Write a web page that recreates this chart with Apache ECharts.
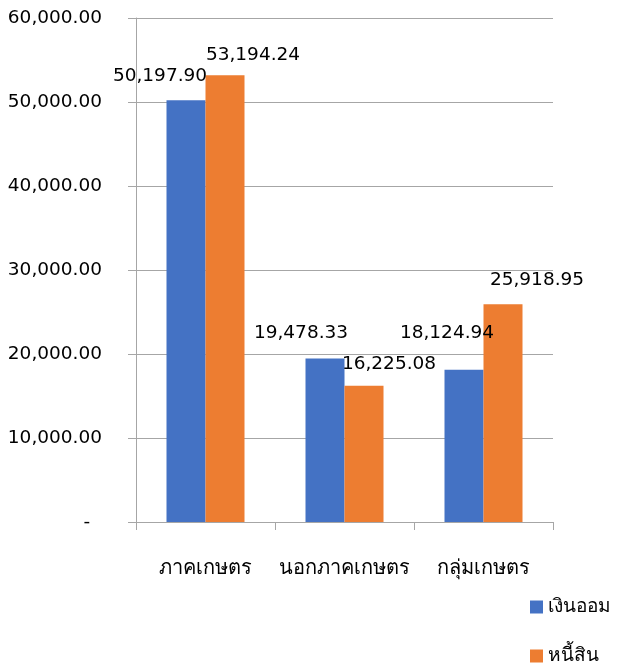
<!DOCTYPE html>
<html>
<head>
<meta charset="utf-8">
<script src="https://cdn.jsdelivr.net/npm/echarts@6/dist/echarts.min.js"></script>
<style>
  html, body { margin: 0; padding: 0; background: #fff; }
  #chart { width: 623px; height: 670px; }
</style>
</head>
<body>
<div id="chart"></div>
<script>
  // ข้อมูล
  const categories = ['ภาคเกษตร', 'นอกภาคเกษตร', 'กลุ่มเกษตร']
  const savings = [50197.90, 19478.33, 18124.94] // เงินออม
  const debts = [53194.24, 16225.08, 25918.95] // หนี้สิน
  const seriesNames = ['เงินออม', 'หนี้สิน']

  // label shifts, copied from the excel layout
  const savingShift = [[-26, -10], [-24, -11], [-17, -22]]
  const debtShift = [[28, -5], [25, -7], [34, -10]]

  const font = '"DejaVu Sans", Tahoma, sans-serif'
  const fmt = v => v.toLocaleString('en-US', { minimumFractionDigits: 2, maximumFractionDigits: 2 })

  function withLabels(values, shifts) {
    return values.map((v, i) => ({
      value: v,
      label: { offset: shifts[i] }
    }))
  }

  const chart = echarts.init(document.getElementById('chart'))
  chart.setOption({
    animation: false,
    textStyle: { fontFamily: font },
    grid: { left: 136, right: 70, top: 18, bottom: 148 },
    legend: {
      orient: 'vertical',
      left: 530,
      top: 597,
      padding: 0,
      itemWidth: 13,
      itemHeight: 13,
      itemGap: 29,
      icon: 'rect',
      textStyle: { fontSize: 19, lineHeight: 20, color: '#000', fontFamily: font },
      data: seriesNames
    },
    xAxis: {
      type: 'category',
      data: categories,
      axisLine: { lineStyle: { color: '#a6a6a6', width: 1 } },
      axisTick: { show: true, length: 8, lineStyle: { color: '#a6a6a6' } },
      axisLabel: { interval: 0, fontSize: 20, color: '#000', margin: 37, fontFamily: font }
    },
    yAxis: {
      type: 'value',
      min: 0,
      max: 60000,
      interval: 10000,
      axisLine: { show: true, lineStyle: { color: '#a6a6a6' } },
      axisTick: { show: true, length: 8, lineStyle: { color: '#a6a6a6' } },
      splitLine: { lineStyle: { color: '#a6a6a6' } },
      axisLabel: {
        fontSize: 18.5,
        color: '#000',
        margin: 34,
        fontFamily: font,
        formatter: v => v === 0 ? '-\u00a0\u00a0' : fmt(v)
      }
    },
    series: [
      {
        name: seriesNames[0],
        type: 'bar',
        barWidth: 39,
        barGap: '0%',
        itemStyle: { color: '#4472c4' },
        label: { show: true, position: 'top', fontSize: 18.5, color: '#000', fontFamily: font, formatter: p => fmt(p.value) },
        data: withLabels(savings, savingShift)
      },
      {
        name: seriesNames[1],
        type: 'bar',
        barWidth: 39,
        itemStyle: { color: '#ed7d31' },
        label: { show: true, position: 'top', fontSize: 18.5, color: '#000', fontFamily: font, formatter: p => fmt(p.value) },
        data: withLabels(debts, debtShift)
      }
    ]
  })
</script>
</body>
</html>
